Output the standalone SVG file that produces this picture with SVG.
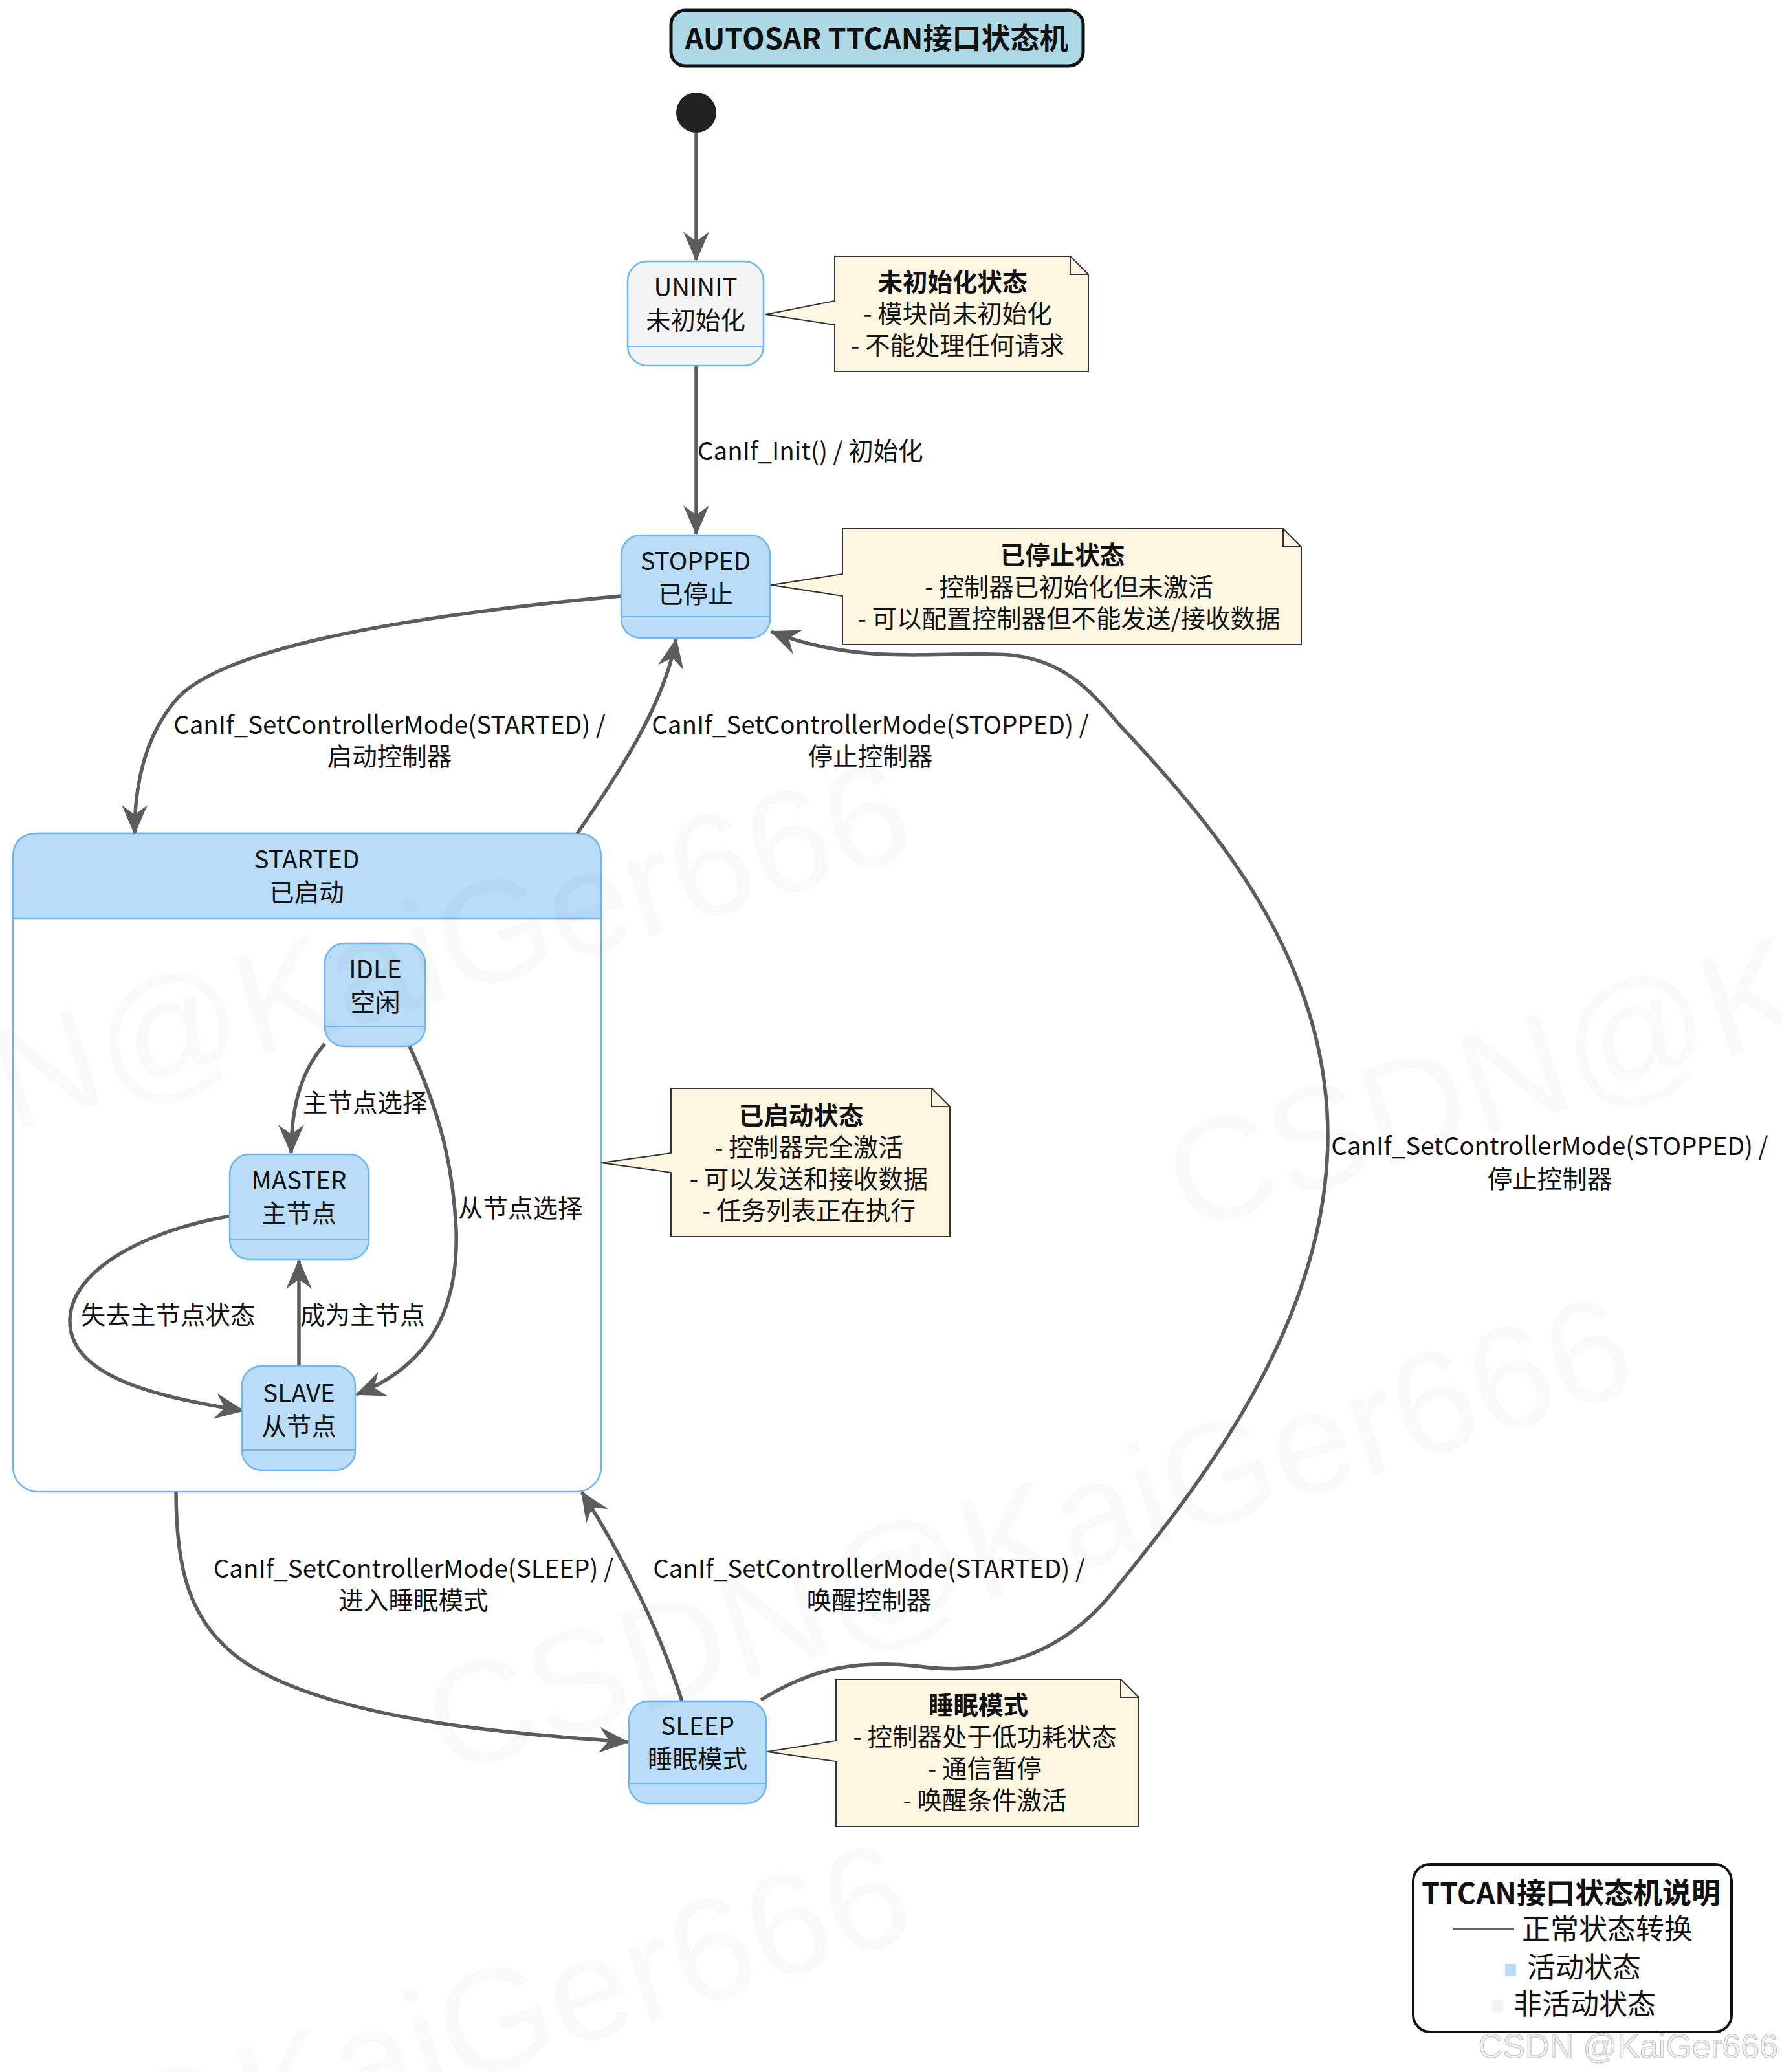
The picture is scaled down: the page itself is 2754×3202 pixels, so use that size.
<svg xmlns="http://www.w3.org/2000/svg" width="2754" height="3202" viewBox="0 0 2754 3202">
<defs>
<style>
text{font-family:"Noto Sans CJK SC","Noto Sans",sans-serif;fill:#111;}
.t{font-size:38.5px;text-anchor:middle;}
.tl{font-size:38.5px;text-anchor:start;}
.b{font-weight:bold;}
.state{fill:#b9ddf8;stroke:#6db5f5;stroke-width:2.5;}
.inactive{fill:#f4f4f4;stroke:#6db5f5;stroke-width:2.5;}
.sep{stroke:#6db5f5;stroke-width:2;}
.note{fill:#fdf7e1;stroke:#333;stroke-width:2;}
.edge{fill:none;stroke:#5c5c5c;stroke-width:5.5;marker-end:url(#arr);}
.wm{font-family:"Liberation Sans",sans-serif;font-size:225px;fill:#000;fill-opacity:0.022;}
</style>
<marker id="arr" markerUnits="userSpaceOnUse" markerWidth="60" markerHeight="60" orient="auto" refX="0" refY="0" overflow="visible">
<path d="M2,0 L-44,-20 L-29,0 L-44,20 Z" fill="#5c5c5c"/>
</marker>
</defs>
<rect width="2754" height="3202" fill="#fff"/>

<g id="title">
<rect x="1037" y="16" width="637" height="86" rx="22" fill="#add8e6" stroke="#111" stroke-width="5"/>
<text class="t b" x="1355" y="76" style="font-size:45px">AUTOSAR TTCAN接口状态机</text>
</g>

<g id="start">
<circle cx="1076" cy="174" r="31" fill="#222"/>
</g>

<g id="STARTED">
<rect x="20" y="1288" width="909" height="1017" rx="38" fill="#fff" stroke="#6db5f5" stroke-width="2.5"/>
<path d="M20,1419 L20,1326 Q20,1288 58,1288 L891,1288 Q929,1288 929,1326 L929,1419 Z" fill="#b9ddf8" stroke="#6db5f5" stroke-width="2.5"/>
<text class="t" x="474" y="1342">STARTED<tspan x="474" dy="51">已启动</tspan></text>
</g>

<g id="connectors">
<path class="edge" d="M1076,205 L1076,402"/>
<path class="edge" d="M1076,565 L1076,825"/>
<path class="edge" d="M960,921 C700,945 360,990 275,1078 C220,1140 208,1220 208,1288"/>
<path class="edge" d="M892,1288 C960,1190 1025,1090 1045,988"/>
<path class="edge" d="M1176,2627 C1260,2575 1330,2565 1420,2575 C1530,2590 1640,2560 1720,2460 C1850,2300 2050,2050 2052,1760 C2054,1500 1900,1300 1730,1120 C1680,1060 1640,1020 1560,1012 C1450,1005 1330,1030 1192,976"/>
<path class="edge" d="M272,2305 C272,2420 290,2510 380,2570 C520,2660 800,2680 970,2692"/>
<path class="edge" d="M1054,2629 C1020,2520 960,2400 899,2306"/>
<path class="edge" d="M502,1613 C470,1650 450,1700 450,1782"/>
<path class="edge" d="M633,1617 C680,1720 700,1800 705,1900 C710,2050 640,2120 551,2155"/>
<path class="edge" d="M357,1879 C230,1900 110,1960 108,2040 C106,2130 250,2160 376,2180"/>
<path class="edge" d="M462,2111 L462,1948"/>
</g>

<g id="labels">
<text class="tl" x="1078" y="711">CanIf_Init() / 初始化</text>
<text class="t" x="602" y="1134">CanIf_SetControllerMode(STARTED) /<tspan x="602" dy="49">启动控制器</tspan></text>
<text class="t" x="1345" y="1134">CanIf_SetControllerMode(STOPPED) /<tspan x="1345" dy="49">停止控制器</tspan></text>
<text class="t" x="2395" y="1785">CanIf_SetControllerMode(STOPPED) /<tspan x="2395" dy="51">停止控制器</tspan></text>
<text class="t" x="639" y="2438">CanIf_SetControllerMode(SLEEP) /<tspan x="639" dy="49">进入睡眠模式</tspan></text>
<text class="t" x="1343" y="2438">CanIf_SetControllerMode(STARTED) /<tspan x="1343" dy="49">唤醒控制器</tspan></text>
<text class="tl" x="468" y="1718">主节点选择</text>
<text class="tl" x="708" y="1881">从节点选择</text>
<text class="tl" x="125" y="2046">失去主节点状态</text>
<text class="tl" x="464" y="2046">成为主节点</text>
</g>

<g id="UNINIT">
<rect class="inactive" x="970" y="404" width="210" height="161" rx="30"/>
<line class="sep" x1="970" y1="535" x2="1180" y2="535"/>
<text class="t" x="1075" y="458">UNINIT<tspan x="1075" dy="51">未初始化</tspan></text>
</g>

<g id="note-uninit">
<path class="note" d="M1290,396 L1654,396 L1682,424 L1682,574 L1290,574 L1290,502 L1183,486 L1290,465 Z"/>
<path d="M1654,396 L1654,424 L1682,424" fill="none" stroke="#333" stroke-width="2"/>
<text class="t" x="1472" y="450"><tspan class="b">未初始化状态</tspan><tspan x="1480" dy="49">- 模块尚未初始化</tspan><tspan x="1480" dy="49">- 不能处理任何请求</tspan></text>
</g>

<g id="STOPPED">
<rect class="state" x="960" y="827" width="230" height="159" rx="30"/>
<line class="sep" x1="960" y1="953" x2="1190" y2="953"/>
<text class="t" x="1075" y="881">STOPPED<tspan x="1075" dy="51">已停止</tspan></text>
</g>

<g id="note-stopped">
<path class="note" d="M1302,817 L1983,817 L2011,845 L2011,996 L1302,996 L1302,921 L1192,904 L1302,887 Z"/>
<path d="M1983,817 L1983,845 L2011,845" fill="none" stroke="#333" stroke-width="2"/>
<text class="t" x="1642" y="872"><tspan class="b">已停止状态</tspan><tspan x="1652" dy="49">- 控制器已初始化但未激活</tspan><tspan x="1652" dy="49">- 可以配置控制器但不能发送/接收数据</tspan></text>
</g>

<g id="IDLE">
<rect class="state" x="502" y="1458" width="155" height="159" rx="30"/>
<line class="sep" x1="502" y1="1586" x2="657" y2="1586"/>
<text class="t" x="580" y="1512">IDLE<tspan x="580" dy="51">空闲</tspan></text>
</g>

<g id="MASTER">
<rect class="state" x="355" y="1784" width="215" height="162" rx="30"/>
<line class="sep" x1="355" y1="1915" x2="570" y2="1915"/>
<text class="t" x="462" y="1838">MASTER<tspan x="462" dy="51">主节点</tspan></text>
</g>

<g id="SLAVE">
<rect class="state" x="374" y="2111" width="175" height="161" rx="30"/>
<line class="sep" x1="374" y1="2241" x2="549" y2="2241"/>
<text class="t" x="462" y="2167">SLAVE<tspan x="462" dy="51">从节点</tspan></text>
</g>

<g id="note-started">
<path class="note" d="M1037,1682 L1440,1682 L1468,1710 L1468,1911 L1037,1911 L1037,1812 L929,1797 L1037,1782 Z"/>
<path d="M1440,1682 L1440,1710 L1468,1710" fill="none" stroke="#333" stroke-width="2"/>
<text class="t" x="1238" y="1738"><tspan class="b">已启动状态</tspan><tspan x="1250" dy="49">- 控制器完全激活</tspan><tspan x="1250" dy="49">- 可以发送和接收数据</tspan><tspan x="1250" dy="49">- 任务列表正在执行</tspan></text>
</g>

<g id="SLEEP">
<rect class="state" x="972" y="2629" width="212" height="158" rx="30"/>
<line class="sep" x1="972" y1="2756" x2="1184" y2="2756"/>
<text class="t" x="1078" y="2681">SLEEP<tspan x="1078" dy="51">睡眠模式</tspan></text>
</g>

<g id="note-sleep">
<path class="note" d="M1292,2595 L1732,2595 L1760,2623 L1760,2823 L1292,2823 L1292,2722 L1186,2707 L1292,2690 Z"/>
<path d="M1732,2595 L1732,2623 L1760,2623" fill="none" stroke="#333" stroke-width="2"/>
<text class="t" x="1512" y="2649"><tspan class="b">睡眠模式</tspan><tspan x="1522" dy="49">- 控制器处于低功耗状态</tspan><tspan x="1522" dy="49">- 通信暂停</tspan><tspan x="1522" dy="49">- 唤醒条件激活</tspan></text>
</g>

<g id="legend">
<rect x="2184" y="2881" width="492" height="259" rx="26" fill="#fff" stroke="#111" stroke-width="4"/>
<line x1="2246" y1="2981" x2="2340" y2="2981" stroke="#666" stroke-width="4"/>
<rect x="2326" y="3035" width="17" height="18" fill="#b9ddf8"/>
<rect x="2306" y="3091" width="17" height="18" fill="#f2f2f2"/>
<text class="tl" x="2197" y="2942" style="font-size:44px"><tspan class="b" style="font-size:45px">TTCAN接口状态机说明</tspan><tspan x="2352" dy="55">正常状态转换</tspan><tspan x="2360" dy="59">活动状态</tspan><tspan x="2339" dy="57">非活动状态</tspan></text>
</g>

<g id="watermarks">
<text class="wm" transform="translate(1420,1320) rotate(-17)" text-anchor="end">CSDN@KaiGer666</text>
<text class="wm" transform="translate(1835,1905) rotate(-18)">CSDN@KaiGer666</text>
<text class="wm" transform="translate(690,2745) rotate(-18)">CSDN@KaiGer666</text>
<text class="wm" transform="translate(1420,2990) rotate(-18)" text-anchor="end">CSDN@KaiGer666</text>
<text x="2748" y="3180" text-anchor="end" style="font-family:'Liberation Sans',sans-serif;font-size:52px;fill:#f2f2f2;stroke:#c4c4c4;stroke-width:1.2">CSDN @KaiGer666</text>
</g>
</svg>
